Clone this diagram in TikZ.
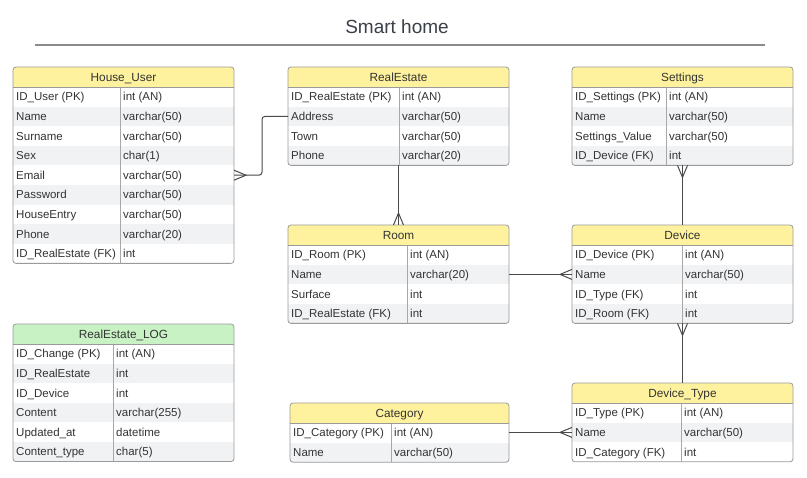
\documentclass[tikz,border=0pt]{standalone}
\usepackage{fontspec}
\setmainfont{Liberation Sans}
\usetikzlibrary{calc}
\definecolor{hdryellow}{HTML}{FFF29E}
\definecolor{hdrgreen}{HTML}{C8F2C4}
\definecolor{stripe}{HTML}{F1F2F4}
\definecolor{bordercol}{HTML}{9A9A9A}
\definecolor{divcol}{HTML}{A8A8A8}
\definecolor{txt}{HTML}{333333}
\definecolor{titlecol}{HTML}{3A4048}
\definecolor{conncol}{HTML}{4A4A4A}
\newcommand{\rowh}{19.6}
\tikzset{
  tablebox/.style={draw=bordercol, line width=0.8pt, rounded corners=3pt, inner sep=0pt, outer sep=0pt},
  rowbox/.style={inner sep=0pt, outer sep=0pt},
  cell/.style={font=\fontsize{11.5}{13}\selectfont, text=txt, anchor=west, inner sep=0pt, text height=8.2pt, text depth=0pt},
  hdrtext/.style={font=\fontsize{11.8}{13}\selectfont, text=txt, inner sep=0pt, text height=8.4pt, text depth=0pt},
  conn/.style={draw=conncol, line width=1pt},
}
% #1 name #2 left #3 top #4 width #5 divider x #6 number of rows #7 title #8 header colour #9 rows
\newcommand{\ertable}[9]{%
  \pgfmathsetmacro{\tabh}{20+#6*\rowh}
  \begin{scope}
    \clip[rounded corners=3pt] (#2,#3) rectangle ++(#4,\tabh);
    \fill[white] (#2,#3) rectangle ++(#4,\tabh);
    \fill[#8] (#2,#3) rectangle ++(#4,20);
    \foreach \i in {1,...,#6} {
      \ifodd\i\relax\else
        \fill[stripe] (#2,{#3+20+(\i-1)*\rowh}) rectangle ++(#4,\rowh);
      \fi
    }
  \end{scope}
  \draw[divcol, line width=0.7pt] (#5,#3+20) -- (#5,#3+\tabh);
  \draw[bordercol, line width=0.8pt] (#2,#3+20) -- ++(#4,0);
  \node[tablebox, minimum width=#4pt, minimum height=\tabh pt, anchor=north west] (#1) at (#2,#3) {};
  \node[hdrtext] (#1-h) at ({#2+#4/2},{#3+10}) {#7};
  \foreach \a/\b [count=\i] in {#9} {
    \node[rowbox, minimum width=#4pt, minimum height=\rowh pt, anchor=north west] (#1-\i) at (#2,{#3+20+(\i-1)*\rowh}) {};
    \node[cell] (#1-\i-k) at ({#2+3},{#3+20+(\i-0.5)*\rowh}) {\a};
    \node[cell] (#1-\i-v) at ({#5+3},{#3+20+(\i-0.5)*\rowh}) {\b};
  }
}
\begin{document}
\begin{tikzpicture}[x=1pt, y=-1pt]
\useasboundingbox (0,0) rectangle (807,478);
\fill[white] (0,0) rectangle (807,478);

\node[font=\fontsize{19}{22}\selectfont, text=titlecol] (title) at (397,27) {Smart home};
\draw[line width=1.2pt, color=bordercol!90!black] (35,45) -- (765,45);

\ertable{hu}{13}{67}{221}{120}{9}{House\_User}{hdryellow}{ID\_User (PK)/int (AN), Name/varchar(50), Surname/varchar(50), Sex/char(1), Email/varchar(50), Password/varchar(50), HouseEntry/varchar(50), Phone/varchar(20), ID\_RealEstate (FK)/int}
\ertable{re}{288}{67}{221}{399}{4}{RealEstate}{hdryellow}{ID\_RealEstate (PK)/int (AN), Address/varchar(50), Town/varchar(50), Phone/varchar(20)}
\ertable{set}{572}{67}{221}{666}{4}{Settings}{hdryellow}{ID\_Settings (PK)/int (AN), Name/varchar(50), Settings\_Value/varchar(50), ID\_Device (FK)/int}
\ertable{room}{288}{225}{221}{407}{4}{Room}{hdryellow}{ID\_Room (PK)/int (AN), Name/varchar(20), Surface/int, ID\_RealEstate (FK)/int}
\ertable{dev}{572}{225}{221}{682}{4}{Device}{hdryellow}{ID\_Device (PK)/int (AN), Name/varchar(50), ID\_Type (FK)/int, ID\_Room (FK)/int}
\ertable{log}{13}{324}{221}{113}{6}{RealEstate\_LOG}{hdrgreen}{ID\_Change (PK)/int (AN), ID\_RealEstate/int, ID\_Device/int, Content/varchar(255), Updated\_at/datetime, Content\_type/char(5)}
\ertable{cat}{290}{403}{219}{391}{2}{Category}{hdryellow}{ID\_Category (PK)/int (AN), Name/varchar(50)}
\ertable{dt}{572}{383}{221}{681}{3}{Device\_Type}{hdryellow}{ID\_Type (PK)/int (AN), Name/varchar(50), ID\_Category (FK)/int}

% House_User.Email >-- RealEstate.Address
\draw[conn, rounded corners=3pt] (hu-5.east) -- ++(28,0) |- (re-2.west);
\draw[conn] ([yshift=5pt]hu-5.east) -- ([xshift=12pt]hu-5.east) -- ([yshift=-5pt]hu-5.east);
% RealEstate --< Room
\draw[conn] (re.south) -- (room.north);
\draw[conn] ([xshift=-5pt]room.north) -- ([yshift=12pt]room.north) -- ([xshift=5pt]room.north);
% Settings >-- Device
\draw[conn] (set.south) -- (dev.north);
\draw[conn] ([xshift=-5pt]set.south) -- ([yshift=-12pt]set.south) -- ([xshift=5pt]set.south);
% Room --< Device
\draw[conn] (room-2.east) -- (room-2.east -| dev-2.west);
\draw[conn] ([yshift=5pt]dev-2.west) -- ([xshift=-12pt]dev-2.west) -- ([yshift=-5pt]dev-2.west);
% Device >-- Device_Type
\draw[conn] (dev.south) -- (dt.north);
\draw[conn] ([xshift=-5pt]dev.south) -- ([yshift=-12pt]dev.south) -- ([xshift=5pt]dev.south);
% Category --< Device_Type
\draw[conn] (cat-1.east) -- (cat-1.east -| dt-2.west);
\draw[conn] ([yshift=5pt]dt-2.west) -- ([xshift=-12pt]dt-2.west) -- ([yshift=-5pt]dt-2.west);
\end{tikzpicture}
\end{document}
